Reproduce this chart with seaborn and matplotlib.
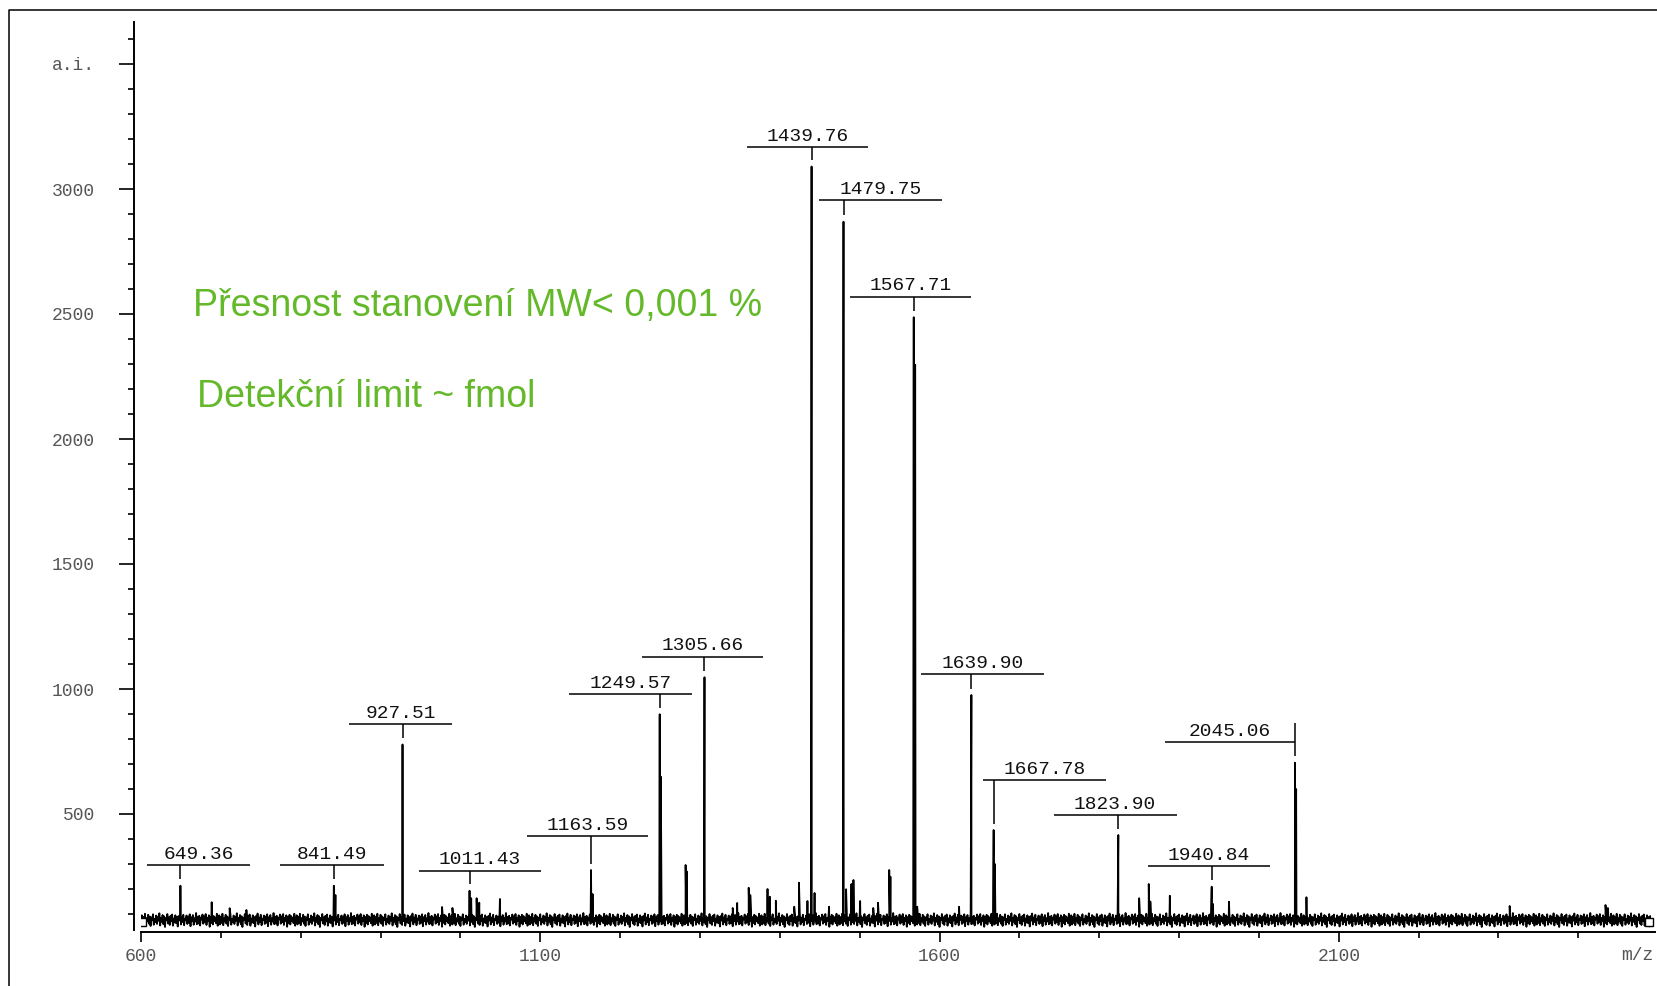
import numpy as np
import pandas as pd
import matplotlib
matplotlib.use("Agg")
import matplotlib.pyplot as plt
import seaborn as sns
from matplotlib.lines import Line2D

# ---------------- data ----------------
peak_labels = ["649.36", "841.49", "927.51", "1011.43", "1163.59", "1249.57", "1305.66",
               "1439.76", "1479.75", "1567.71", "1639.90", "1667.78", "1823.90",
               "1940.84", "2045.06"]
peak_mz = [649.36, 841.49, 927.51, 1011.43, 1163.59, 1249.57, 1305.66,
           1439.76, 1479.75, 1567.71, 1639.90, 1667.78, 1823.90, 1940.84, 2045.06]
peak_int = [213, 213, 778, 193, 276, 899, 1047, 3090, 2869, 2487, 976, 436, 416, 209, 705]

# unlabeled / shoulder peaks
minor_mz = [688.5, 711, 732, 843.5, 977, 990, 1013.5, 1020.3, 1023.6, 1049.5, 1165.5,
            1251.0, 1282, 1283.5, 1341, 1346.6, 1361, 1363, 1384.6, 1387.5, 1395, 1418,
            1424, 1434.6, 1443.5, 1461.7, 1483, 1489.7, 1492.2, 1500.6, 1517, 1523,
            1537, 1538.5, 1569.5, 1572, 1624.5, 1669.3, 1850, 1862, 1864, 1888.4,
            1942.5, 1962.5, 2046.6, 2059.5, 2314, 2434, 2437]
minor_int = [147, 123, 116, 176, 128, 124, 163, 163, 145, 160, 180,
             649, 296, 270, 124, 144, 205, 176, 200, 169, 153, 129,
             225, 152, 184, 129, 199, 220, 236, 152, 124, 145,
             276, 249, 2297, 129, 129, 300, 163, 220, 150, 173,
             140, 149, 600, 167, 132, 136, 124]

# baseline noise level (a.i.), read as the jagged band of the trace
noise = [72, 95, 58, 88, 64, 101, 55, 83, 70, 97, 61, 90, 52, 86, 76, 99, 57, 80, 67, 94,
         60, 89, 73, 103, 54, 85, 69, 96, 59, 91, 48, 84, 75, 100, 62, 87, 56, 93, 71, 98,
         53, 82, 66, 95, 63, 88, 50, 92, 74, 102, 58, 86, 68, 97, 55, 81, 77, 94, 60, 90,
         65, 99, 51, 87, 72, 96, 57, 83, 70, 104, 59, 89, 62, 93, 54, 85, 78, 98, 61, 91,
         67, 100, 56, 84, 73, 95, 49, 88, 64, 97, 58, 92, 71, 86, 63, 101, 53]
mz_start, mz_end = 600, 2490

marker_mz = [601, 2489]
marker_int = [68, 68]

y_major = [500, 1000, 1500, 2000, 2500, 3000, 3500]
y_major_labels = ["500", "1000", "1500", "2000", "2500", "3000", "a.i."]
x_major = [600, 1100, 1600, 2100]
x_major_labels = ["600", "1100", "1600", "2100"]

# label layout (m/z extents of the underline, intensity height of the underline)
label_left = [607, 774, 860, 948, 1084, 1136, 1227, 1359, 1449, 1488, 1577, 1655, 1743, 1861, 1882]
label_right = [737, 904, 990, 1101, 1235, 1290, 1379, 1511, 1603, 1640, 1731, 1809, 1897, 2014, 2045.06]
label_y = [296, 296, 859, 273, 413, 980, 1129, 3168, 2956, 2569, 1060, 636, 496, 293, 787]
label_tick_top = [296, 296, 859, 273, 413, 980, 1129, 3168, 2956, 2569, 1060, 636, 496, 293, 864]

# ---------------- build trace ----------------
grid = np.arange(mz_start, mz_end + 1, 1.0)
base = np.resize(np.array(noise, dtype=float), grid.size)
df = pd.concat([
    pd.DataFrame({"mz": grid, "intensity": base}),
    pd.DataFrame({"mz": peak_mz, "intensity": peak_int}),
    pd.DataFrame({"mz": minor_mz, "intensity": minor_int}),
], ignore_index=True).sort_values("mz", kind="mergesort").reset_index(drop=True)

# ---------------- figure ----------------
sns.set_style("white")
plt.rcParams["font.family"] = ["Liberation Mono", "DejaVu Sans Mono"]

W, H = 1658, 986
fig = plt.figure(figsize=(W / 100, H / 100), dpi=100)
ax = fig.add_axes([141 / W, 1 - 932 / H, (1655 - 141) / W, (932 - 22) / H])
ax.set_facecolor("white")

sns.lineplot(data=df, x="mz", y="intensity", ax=ax, color="black", lw=1.3,
             estimator=None, sort=False, legend=False)
ax.plot(marker_mz, marker_int, ls="none", marker="s", ms=5.5, mfc="white",
        mec="black", mew=1.0, zorder=5)

ax.set_xlim(600, 2496)
ax.set_ylim(28, 3668)
ax.set_xlabel("")
ax.set_ylabel("")

for s in ["top", "right"]:
    ax.spines[s].set_visible(False)
ax.spines["left"].set_position(("outward", 5))
ax.spines["left"].set_bounds(36, 3668)
ax.spines["left"].set_linewidth(1.4)
ax.spines["bottom"].set_linewidth(1.4)
ax.spines["left"].set_color("black")
ax.spines["bottom"].set_color("black")

ax.set_yticks(y_major)
ax.set_yticklabels(y_major_labels)
ax.set_yticks([v for v in range(100, 3700, 100) if v not in y_major], minor=True)
ax.set_xticks(x_major)
ax.set_xticklabels(x_major_labels)
ax.set_xticks([v for v in range(700, 2500, 100) if v not in x_major], minor=True)

ax.tick_params(axis="y", which="major", direction="out", length=11, width=1.2,
               pad=17, labelsize=13, labelcolor="#555555", color="black", left=True)
ax.tick_params(axis="y", which="minor", direction="out", length=4.5, width=1.2,
               color="black", left=True)
ax.tick_params(axis="x", which="major", direction="out", length=7.5, width=1.2,
               pad=4, labelsize=13, labelcolor="#555555", color="black", bottom=True)
ax.tick_params(axis="x", which="minor", direction="out", length=4, width=1.2,
               color="black", bottom=True)

# peak annotations
for lab, mz, h, l, r, uy, tt in zip(peak_labels, peak_mz, peak_int, label_left,
                                     label_right, label_y, label_tick_top):
    ax.plot([l, r], [uy, uy], color="black", lw=1.1, solid_capstyle="butt")
    ax.plot([mz, mz], [tt, h + 26], color="black", lw=1.1, solid_capstyle="butt")
    ax.annotate(lab, ((l + r) / 2, uy), xytext=(0, 4.5), textcoords="offset points",
                ha="center", va="baseline", fontsize=14, color="#111111",
                family=["Liberation Mono", "DejaVu Sans Mono"])

# green notes
green = "#64B92A"
fig.text(193 / W, 1 - 306 / H, "Přesnost stanovení MW< 0,001 %", color=green,
         fontsize=27, family=["Liberation Sans", "DejaVu Sans"], ha="left", va="center")
fig.text(197 / W, 1 - 397 / H, "Detekční limit ~ fmol", color=green,
         fontsize=27, family=["Liberation Sans", "DejaVu Sans"], ha="left", va="center")

# axis unit label
fig.text(1653 / W, 1 - 955 / H, "m/z", color="#555555", fontsize=13,
         family=["Liberation Mono", "DejaVu Sans Mono"], ha="right", va="center")

# outer frame (left and top edges)
fig.add_artist(Line2D([9 / W, 9 / W, 1.0], [0.0, 1 - 10 / H, 1 - 10 / H],
                      transform=fig.transFigure, color="black", lw=1.1))

fig.savefig("out.png", dpi=100, facecolor="white")
